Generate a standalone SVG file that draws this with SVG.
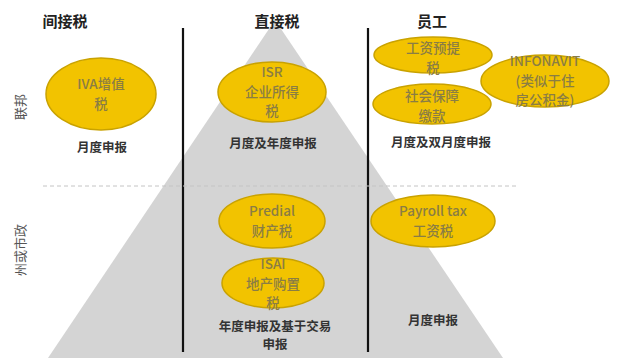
<svg xmlns="http://www.w3.org/2000/svg" width="620" height="358" viewBox="0 0 620 358">
<style>
.bg{fill:#ffffff}
.tri{fill:#d4d4d4}
.vline{stroke:#111;stroke-width:2.2}
.dash{stroke:#c4c4c4;stroke-width:1;stroke-dasharray:4 3}
.ell{fill:#f2c300;stroke:#c9a200;stroke-width:1.5}
.et{font-family:"Noto Sans CJK SC","Noto Sans",sans-serif;font-size:13.5px;font-weight:500;fill:#8a7d44;text-anchor:middle}
.hd{font-family:"Noto Sans CJK SC",sans-serif;font-size:15px;font-weight:bold;fill:#222;text-anchor:middle}
.lb{font-family:"Noto Sans CJK SC",sans-serif;font-size:12.5px;font-weight:bold;fill:#333;text-anchor:middle}
.side{font-family:"Noto Sans CJK SC",sans-serif;font-size:13px;fill:#555;text-anchor:middle}
</style>
<rect class="bg" x="0" y="0" width="620" height="358"/>
<polygon class="tri" points="275,20 48,358 503,358"/>
<g id="connectors">
<line class="vline" x1="183" y1="28" x2="183" y2="352"/>
<line class="vline" x1="368" y1="28" x2="368" y2="352"/>
<line class="dash" x1="43" y1="186" x2="518" y2="186"/>
</g>
<g id="headers">
<text class="hd" x="65" y="27">间接税</text>
<text class="hd" x="277" y="27">直接税</text>
<text class="hd" x="432" y="27">员工</text>
</g>
<g id="side-labels">
<text class="side" transform="translate(25,107) rotate(-90)">联邦</text>
<text class="side" transform="translate(25,250) rotate(-90)">州或市政</text>
</g>
<g id="iva">
<ellipse class="ell" cx="101" cy="94" rx="55" ry="36"/>
<text class="et" x="101" y="89">IVA增值</text>
<text class="et" x="101" y="109">税</text>
</g>
<text class="lb" x="102" y="152">月度申报</text>
<g id="isr">
<ellipse class="ell" cx="272" cy="92" rx="54" ry="30"/>
<text class="et" x="272" y="77">ISR</text>
<text class="et" x="272" y="96.5">企业所得</text>
<text class="et" x="272" y="116">税</text>
</g>
<text class="lb" x="273" y="148">月度及年度申报</text>
<g id="gongzi">
<ellipse class="ell" cx="433" cy="55" rx="59" ry="18"/>
<text class="et" x="433" y="53">工资预提</text>
<text class="et" x="433" y="72.5">税</text>
</g>
<g id="shehui">
<ellipse class="ell" cx="432" cy="104" rx="59" ry="20"/>
<text class="et" x="432" y="101">社会保障</text>
<text class="et" x="432" y="120.5">缴款</text>
</g>
<g id="infonavit">
<ellipse class="ell" cx="545" cy="81" rx="64" ry="26"/>
<text class="et" x="545" y="66">INFONAVIT</text>
<text class="et" x="545" y="85.5">(类似于住</text>
<text class="et" x="545" y="105">房公积金)</text>
</g>
<text class="lb" x="441" y="147">月度及双月度申报</text>
<g id="predial">
<ellipse class="ell" cx="272" cy="221" rx="53" ry="27"/>
<text class="et" x="272" y="216">Predial</text>
<text class="et" x="272" y="236">财产税</text>
</g>
<g id="isai">
<ellipse class="ell" cx="273" cy="283" rx="51" ry="25"/>
<text class="et" x="273" y="269">ISAI</text>
<text class="et" x="273" y="288.5">地产购置</text>
<text class="et" x="273" y="308">税</text>
</g>
<text class="lb" x="275" y="331"><tspan x="275" y="331">年度申报及基于交易</tspan><tspan x="275" y="349">申报</tspan></text>
<g id="payroll">
<ellipse class="ell" cx="433" cy="221" rx="62" ry="26"/>
<text class="et" x="433" y="216">Payroll tax</text>
<text class="et" x="433" y="236">工资税</text>
</g>
<text class="lb" x="433" y="325">月度申报</text>
</svg>
